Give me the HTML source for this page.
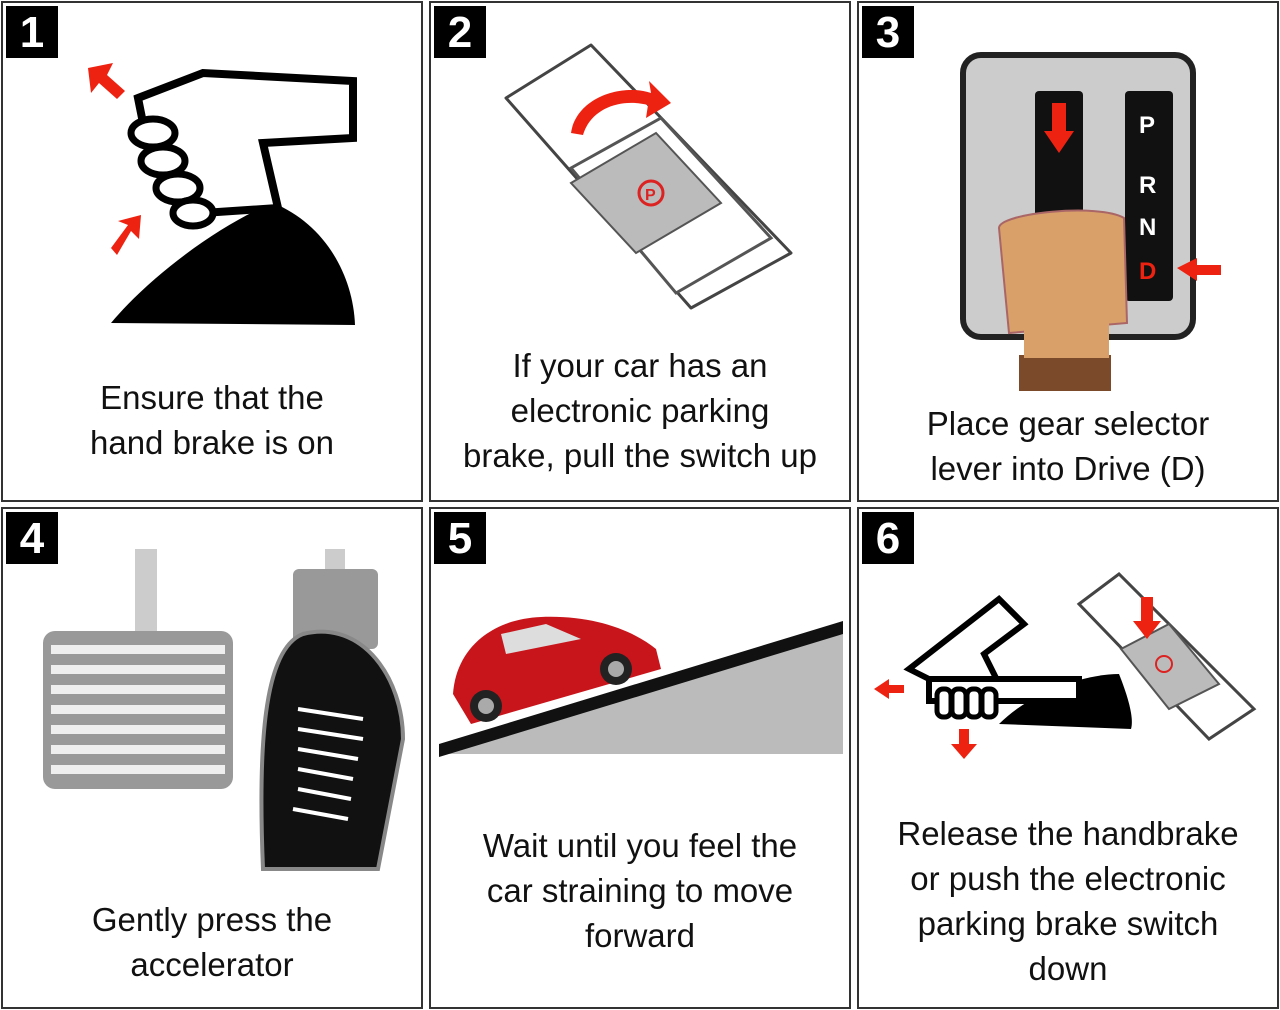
<!DOCTYPE html>
<html><head><meta charset="utf-8"><style>
body{margin:0;width:1280px;height:1010px;background:#fff;position:relative;overflow:hidden;font-family:"Liberation Sans",sans-serif}
.p{position:absolute;border:2px solid #333;box-sizing:border-box;background:#fff}
.b{position:absolute;left:3px;top:3px;width:52px;height:52px;background:#000;color:#fff;font-size:44px;font-weight:bold;text-align:center;line-height:54px}
.t{position:absolute;left:0;right:0;text-align:center;font-size:33px;line-height:45px;color:#111}
svg{position:absolute;left:0;top:0}
</style></head><body>
<div class="p" style="left:1px;top:1px;width:422px;height:501px">
<div class="b">1</div>
<svg width="420" height="500">
<path d="M108 320 C150 270 220 220 270 200 C320 220 350 270 352 322 Z" fill="#000"/>
<path d="M135 95 L200 70 L350 78 L350 135 L260 140 L275 205 L200 210 L140 120 Z" fill="#fff" stroke="#000" stroke-width="8"/>
<g fill="#fff" stroke="#000" stroke-width="7"><ellipse cx="150" cy="130" rx="22" ry="14"/><ellipse cx="160" cy="158" rx="22" ry="14"/><ellipse cx="175" cy="185" rx="22" ry="14"/><ellipse cx="190" cy="210" rx="20" ry="13"/></g>
<path d="M85 65 L110 60 L104 72 L122 88 L114 96 L96 80 L88 90 Z" fill="#e21"/>
<path d="M108 245 L125 222 L115 218 L138 212 L136 236 L128 228 L114 252 Z" fill="#e21"/>
</svg>
<div class="t" style="top:372px">Ensure that the<br>hand brake is on</div></div>

<div class="p" style="left:429px;top:1px;width:422px;height:501px">
<div class="b">2</div>
<svg width="420" height="500">
<path d="M75 95 L160 42 L360 250 L260 305 Z" fill="#fff" stroke="#444" stroke-width="3" stroke-linejoin="round"/>
<path d="M140 165 L230 115 L340 235 L245 290 Z" fill="#fff" stroke="#555" stroke-width="3"/>
<path d="M140 180 L225 130 L290 200 L205 250 Z" fill="#bbb" stroke="#555" stroke-width="2"/>
<circle cx="220" cy="190" r="12" fill="none" stroke="#d22" stroke-width="3"/>
<text x="214" y="197" font-size="16" fill="#d22" font-weight="bold">P</text>
<path d="M140 130 C145 95 190 80 220 90 L218 78 L240 100 L215 115 L217 102 C190 95 160 105 152 132 Z" fill="#e21"/>
</svg>
<div class="t" style="top:340px">If your car has an<br>electronic parking<br>brake, pull the switch up</div></div>

<div class="p" style="left:857px;top:1px;width:422px;height:501px">
<div class="b">3</div>
<svg width="420" height="500">
<rect x="104" y="52" width="230" height="282" rx="18" fill="#ccc" stroke="#222" stroke-width="6"/>
<rect x="176" y="88" width="48" height="240" rx="4" fill="#111"/>
<rect x="266" y="88" width="48" height="210" rx="4" fill="#111"/>
<text x="280" y="130" fill="#fff" font-size="24" font-weight="bold">P</text>
<text x="280" y="190" fill="#fff" font-size="24" font-weight="bold">R</text>
<text x="280" y="232" fill="#fff" font-size="24" font-weight="bold">N</text>
<text x="280" y="276" fill="#e21" font-size="24" font-weight="bold">D</text>
<path d="M193 100 L207 100 L207 128 L215 128 L200 150 L185 128 L193 128 Z" fill="#e21"/>
<path d="M140 225 C140 210 240 200 265 215 L268 320 L150 330 Z" fill="#d9a06a" stroke="#a66" stroke-width="2"/>
<rect x="160" y="352" width="92" height="36" fill="#7a4a2a"/>
<rect x="165" y="320" width="85" height="35" fill="#d9a06a"/>
<path d="M318 265 L338 255 L338 262 L362 262 L362 272 L338 272 L338 278 Z" fill="#e21"/>
</svg>
<div class="t" style="top:398px">Place gear selector<br>lever into Drive (D)</div></div>

<div class="p" style="left:1px;top:507px;width:422px;height:502px">
<div class="b">4</div>
<svg width="420" height="500">
<rect x="132" y="40" width="22" height="90" fill="#ccc"/>
<rect x="40" y="122" width="190" height="158" rx="12" fill="#999"/>
<g fill="#eee"><rect x="48" y="136" width="174" height="9"/><rect x="48" y="156" width="174" height="9"/><rect x="48" y="176" width="174" height="9"/><rect x="48" y="196" width="174" height="9"/><rect x="48" y="216" width="174" height="9"/><rect x="48" y="236" width="174" height="9"/><rect x="48" y="256" width="174" height="9"/></g>
<rect x="322" y="40" width="20" height="25" fill="#ccc"/>
<rect x="290" y="60" width="85" height="80" rx="6" fill="#999"/>
<path d="M260 360 C255 240 260 140 300 125 C360 110 400 170 400 230 L375 360 Z" fill="#111" stroke="#888" stroke-width="4"/>
<g stroke="#fff" stroke-width="4" fill="none"><path d="M295 200 L360 210"/><path d="M295 220 L360 230"/><path d="M295 240 L355 250"/><path d="M295 260 L350 270"/><path d="M295 280 L348 290"/><path d="M290 300 L345 310"/></g>
</svg>
<div class="t" style="top:388px">Gently press the<br>accelerator</div></div>

<div class="p" style="left:429px;top:507px;width:422px;height:502px">
<div class="b">5</div>
<svg width="420" height="500">
<path d="M8 245 L412 115 L412 245 Z" fill="#bbb"/>
<path d="M8 235 L412 112 L412 125 L8 248 Z" fill="#111"/>
<path d="M22 185 C25 140 60 110 110 108 C160 106 200 120 225 140 L230 160 L40 215 Z" fill="#c8151b"/>
<path d="M70 125 L115 115 L150 130 L75 145 Z" fill="#ddd"/>
<circle cx="55" cy="197" r="16" fill="#222"/><circle cx="55" cy="197" r="8" fill="#aaa"/>
<circle cx="185" cy="160" r="16" fill="#222"/><circle cx="185" cy="160" r="8" fill="#aaa"/>
</svg>
<div class="t" style="top:314px">Wait until you feel the<br>car straining to move<br>forward</div></div>

<div class="p" style="left:857px;top:507px;width:422px;height:502px">
<div class="b">6</div>
<svg width="420" height="500">
<path d="M140 215 C175 180 230 165 260 165 C270 190 275 210 272 220 Z" fill="#000"/>
<path d="M50 160 L140 90 L165 115 L125 145 L140 175 L80 175 Z" fill="#fff" stroke="#000" stroke-width="6"/>
<rect x="70" y="170" width="150" height="22" fill="#fff" stroke="#000" stroke-width="6"/>
<g fill="#fff" stroke="#000" stroke-width="5"><rect x="78" y="180" width="14" height="28" rx="6"/><rect x="93" y="180" width="14" height="28" rx="6"/><rect x="108" y="180" width="14" height="28" rx="6"/><rect x="123" y="180" width="14" height="28" rx="6"/></g>
<path d="M15 180 L30 170 L30 176 L45 176 L45 184 L30 184 L30 190 Z" fill="#e21"/>
<path d="M100 220 L110 220 L110 235 L118 235 L105 250 L92 235 L100 235 Z" fill="#e21"/>
<path d="M220 95 L260 65 L395 200 L350 230 Z" fill="#fff" stroke="#444" stroke-width="3"/>
<path d="M262 140 L310 115 L360 175 L310 200 Z" fill="#bbb" stroke="#555" stroke-width="2"/>
<circle cx="305" cy="155" r="8" fill="none" stroke="#d22" stroke-width="2"/>
<path d="M282 88 L294 88 L294 112 L302 112 L288 130 L274 112 L282 112 Z" fill="#e21"/>
</svg>
<div class="t" style="top:302px">Release the handbrake<br>or push the electronic<br>parking brake switch<br>down</div></div>
</body></html>
